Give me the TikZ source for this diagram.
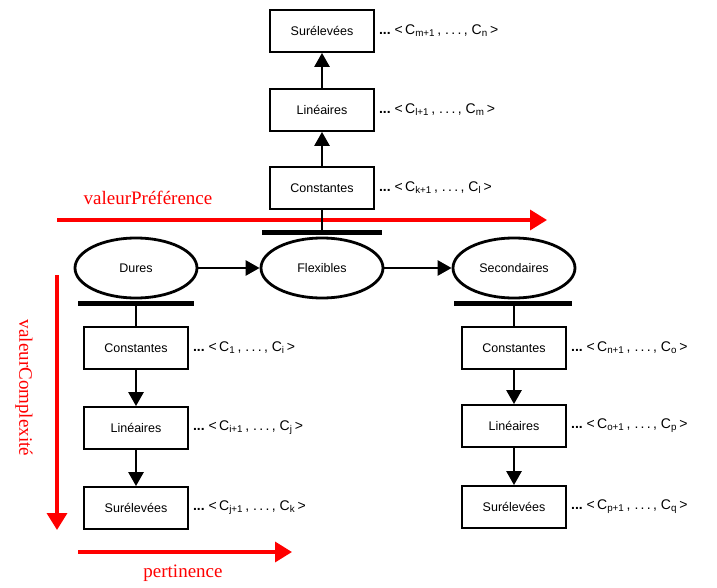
\documentclass[tikz,border=0pt]{standalone}
\usepackage{fontspec}
\setmainfont{Liberation Serif}
\setsansfont{Liberation Sans}
\usetikzlibrary{positioning,arrows.meta,shapes.geometric}

\tikzset{
  boite/.style={draw,line width=1.8pt,fill=white,minimum width=104pt,minimum height=42pt,
    font=\sffamily\fontsize{12.5}{14}\selectfont},
  ovale/.style={draw,ellipse,line width=2.8pt,fill=white,minimum width=122pt,minimum height=60pt,
    inner sep=0pt,font=\sffamily\fontsize{12.5}{14}\selectfont},
  fleche/.style={line width=2.6pt,-{Triangle[length=14pt,width=15pt]}},
  lien/.style={line width=2.6pt},
  barre/.style={line width=4.5pt},
  axe/.style={red,line width=3.5pt,-{Triangle[length=17pt,width=20pt]}},
  rouge/.style={red,font=\fontsize{19}{21}\selectfont},
  suite/.style={anchor=west,inner sep=0pt,font=\sffamily\fontsize{14}{16}\selectfont},
}
\newcommand{\suitec}[2]{\textbf{...}\ {<}\,C\textsubscript{#1}\,, .\,.\,.\,, C\textsubscript{#2}\,{>}}

\begin{document}
\begin{tikzpicture}[x=1pt,y=-1pt]
\useasboundingbox (0,0) rectangle (717,588);
% axes
\coordinate (pa) at (57,220);
\coordinate (pb) at (547,220);
\coordinate (ca) at (57,275);
\coordinate (cb) at (57,530);
\coordinate (ta) at (78,552);
\coordinate (tb) at (292,552);
\draw[axe] (pa) -- (pb);
\draw[axe] (ca) -- (cb);
\draw[axe] (ta) -- (tb);
\node[rouge] (vp) at (148,198) {valeurPréférence};
\node[rouge,rotate=-90] (vc) at (24,388) {valeurComplexité};
\node[rouge] (pe) at (183,573) {pertinence};
% ellipses
\node[ovale] (dures) at (136,268) {Dures};
\node[ovale] (flex) at (322,268) {Flexibles};
\node[ovale] (sec) at (514,268) {Secondaires};
\draw[fleche] (dures) -- (flex);
\draw[fleche] (flex) -- (sec);
% barres
\coordinate (bd) at ([yshift=-4pt]dures.south);
\coordinate (bf) at ([yshift=4pt]flex.north);
\coordinate (bs) at ([yshift=-4pt]sec.south);
\draw[barre] ([xshift=-58pt]bd) -- ([xshift=58pt]bd);
\draw[barre] ([xshift=-60pt]bf) -- ([xshift=60pt]bf);
\draw[barre] ([xshift=-60pt]bs) -- ([xshift=58pt]bs);
% colonne du haut
\node[boite] (hc) at (322,188) {Constantes};
\node[boite] (hl) at (322,110) {Linéaires};
\node[boite] (hs) at (322,31) {Surélevées};
\draw[lien] (bf) -- (hc);
\draw[fleche] (hc) -- (hl);
\draw[fleche] (hl) -- (hs);
\node[suite] (shc) at ([xshift=4pt]hc.east) {\suitec{k+1}{l}};
\node[suite] (shl) at ([xshift=4pt]hl.east) {\suitec{l+1}{m}};
\node[suite] (shs) at ([xshift=4pt]hs.east) {\suitec{m+1}{n}};
% colonne de gauche
\node[boite] (gc) at (136,348) {Constantes};
\node[boite] (gl) at (136,428) {Linéaires};
\node[boite] (gs) at (136,508) {Surélevées};
\draw[lien] (bd) -- (gc);
\draw[fleche] (gc) -- (gl);
\draw[fleche] (gl) -- (gs);
\node[suite] (sgc) at ([xshift=4pt]gc.east) {\suitec{1}{i}};
\node[suite] (sgl) at ([xshift=4pt]gl.east) {\suitec{i+1}{j}};
\node[suite] (sgs) at ([xshift=4pt]gs.east) {\suitec{j+1}{k}};
% colonne de droite
\node[boite] (dc) at (514,348) {Constantes};
\node[boite] (dl) at (514,426) {Linéaires};
\node[boite] (ds) at (514,507) {Surélevées};
\draw[lien] (bs) -- (dc);
\draw[fleche] (dc) -- (dl);
\draw[fleche] (dl) -- (ds);
\node[suite] (sdc) at ([xshift=4pt]dc.east) {\suitec{n+1}{o}};
\node[suite] (sdl) at ([xshift=4pt]dl.east) {\suitec{o+1}{p}};
\node[suite] (sds) at ([xshift=4pt]ds.east) {\suitec{p+1}{q}};
\end{tikzpicture}
\end{document}
